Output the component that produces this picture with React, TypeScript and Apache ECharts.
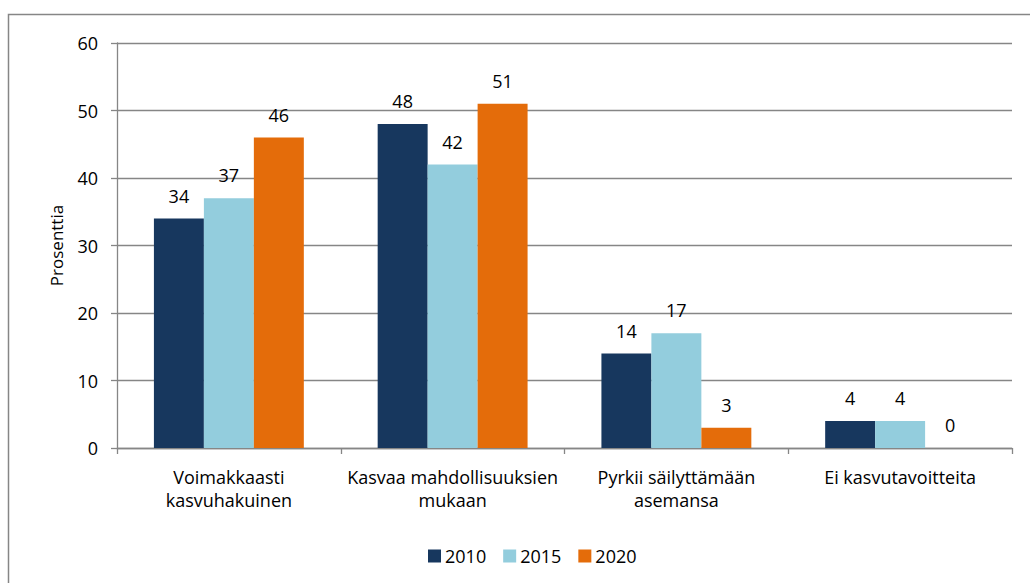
import React, { useEffect, useRef } from "react";
import * as echarts from "echarts";

const categories = [
  "Voimakkaasti\nkasvuhakuinen",
  "Kasvaa mahdollisuuksien\nmukaan",
  "Pyrkii säilyttämään\nasemansa",
  "Ei kasvutavoitteita",
];
const seriesNames = ["2010", "2015", "2020"];
const values2010 = [34, 48, 14, 4];
const values2015 = [37, 42, 17, 4];
const values2020 = [46, 51, 3, 0];
const colors = ["#17375E", "#93CDDD", "#E46C0A"];
const yTicks = { min: 0, max: 60, interval: 10 };

const FONT = "Open Sans";

export default function App() {
  const ref = useRef<HTMLDivElement>(null);
  useEffect(() => {
    if (!ref.current) return;
    const chart = echarts.init(ref.current, null, { renderer: "svg" });
    const data = [values2010, values2015, values2020];
    chart.setOption({
      animation: false,
      backgroundColor: "#ffffff",
      textStyle: { fontFamily: FONT, color: "#000" },
      graphic: [
        {
          type: "rect",
          shape: { x: 8.5, y: 14.5, width: 1200, height: 800 },
          style: { fill: "none", stroke: "#868686", lineWidth: 1.5 },
          silent: true,
        },
      ],
      grid: { left: 117, right: 18, top: 43, bottom: 135, containLabel: false },
      legend: {
        data: seriesNames,
        left: 423,
        top: 542,
        itemWidth: 13,
        itemHeight: 13,
        itemGap: 17,
        icon: "rect",
        textStyle: { fontFamily: FONT, fontSize: 18, color: "#000", padding: [0, 0, 0, -1] },
      },
      xAxis: {
        type: "category",
        data: categories,
        axisLine: { lineStyle: { color: "#868686", width: 1.3 } },
        axisTick: { show: true, length: 6, lineStyle: { color: "#868686", width: 1.3 } },
        axisLabel: {
          fontFamily: FONT,
          fontSize: 18,
          color: "#000",
          margin: 17,
          lineHeight: 23,
          interval: 0,
        },
      },
      yAxis: {
        type: "value",
        min: yTicks.min,
        max: yTicks.max,
        interval: yTicks.interval,
        name: "Prosenttia",
        nameLocation: "middle",
        nameGap: 52,
        nameTextStyle: { fontFamily: FONT, fontSize: 17, color: "#000" },
        axisLine: { show: true, lineStyle: { color: "#868686", width: 1.3 } },
        axisTick: { show: true, length: 6, lineStyle: { color: "#868686", width: 1.3 } },
        splitLine: { lineStyle: { color: "#868686", width: 1.3 } },
        axisLabel: { fontFamily: FONT, fontSize: 18, color: "#000", margin: 19 },
      },
      series: seriesNames.map((name, i) => ({
        name,
        type: "bar",
        data: data[i],
        barGap: "0%",
        barCategoryGap: "33%",
        itemStyle: { color: colors[i] },
        label: {
          show: true,
          position: "top",
          distance: 14,
          fontFamily: FONT,
          fontSize: 18,
          color: "#000",
        },
      })),
    });
    return () => chart.dispose();
  }, []);
  return (
    <div
      ref={ref}
      style={{ position: "fixed", left: 0, top: 0, width: 1030, height: 583, background: "#fff" }}
    />
  );
}
